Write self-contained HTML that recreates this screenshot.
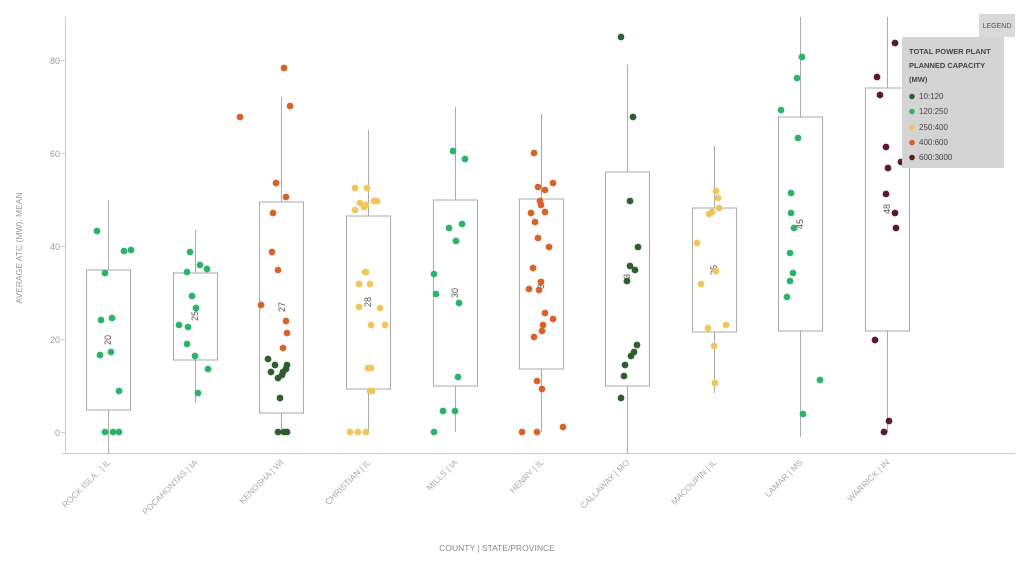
<!DOCTYPE html>
<html><head><meta charset="utf-8"><style>
body{margin:0;background:#fff;font-family:"Liberation Sans",sans-serif}
</style></head><body>
<svg width="1024" height="565" xmlns="http://www.w3.org/2000/svg" font-family="Liberation Sans, sans-serif">
<g stroke="#ccc" stroke-width="1" fill="none">
<line x1="65.5" y1="17" x2="65.5" y2="453"/>
<line x1="62" y1="453.5" x2="1015" y2="453.5"/>
</g>
<g fill="#999" font-size="9" text-anchor="end">
<text x="60" y="64">80</text><text x="60" y="157">60</text><text x="60" y="250">40</text><text x="60" y="343">20</text><text x="60" y="436">0</text>
</g>
<g stroke="#ccc"><line x1="61" y1="60.5" x2="65" y2="60.5"/><line x1="61" y1="153.5" x2="65" y2="153.5"/><line x1="61" y1="246.5" x2="65" y2="246.5"/><line x1="61" y1="339.5" x2="65" y2="339.5"/><line x1="61" y1="432.5" x2="65" y2="432.5"/></g>
<text x="22" y="248" fill="#999" font-size="8.5" text-anchor="middle" transform="rotate(-90 22 248)">AVERAGE ATC (MW), MEAN</text>
<text x="497" y="551" fill="#888" font-size="8.5" text-anchor="middle">COUNTY | STATE/PROVINCE</text>
<g fill="#aaa" font-size="8.5" text-anchor="end">
<text transform="translate(111,463) rotate(-45)">ROCK ISLA.. | IL</text>
<text transform="translate(198,463) rotate(-45)">POCAHONTAS | IA</text>
<text transform="translate(284,463) rotate(-45)">KENOSHA | WI</text>
<text transform="translate(371,463) rotate(-45)">CHRISTIAN | IL</text>
<text transform="translate(458,463) rotate(-45)">MILLS | IA</text>
<text transform="translate(544,463) rotate(-45)">HENRY | IL</text>
<text transform="translate(630,463) rotate(-45)">CALLAWAY | MO</text>
<text transform="translate(717,463) rotate(-45)">MACOUPIN | IL</text>
<text transform="translate(803,463) rotate(-45)">LAMAR | MS</text>
<text transform="translate(890,463) rotate(-45)">WARRICK | IN</text>
</g>
<g stroke="#aaa" stroke-width="1" fill="#fff">
<line x1="108.5" y1="200" x2="108.5" y2="453"/><rect x="86.5" y="270" width="44" height="140"/>
<line x1="195.5" y1="230" x2="195.5" y2="403"/><rect x="173.5" y="273" width="44" height="87"/>
<line x1="281.5" y1="97" x2="281.5" y2="432"/><rect x="259.5" y="202" width="44" height="211"/>
<line x1="368.5" y1="130" x2="368.5" y2="432"/><rect x="346.5" y="216" width="44" height="173"/>
<line x1="455.5" y1="107" x2="455.5" y2="432"/><rect x="433.5" y="200" width="44" height="186"/>
<line x1="541.5" y1="114" x2="541.5" y2="432"/><rect x="519.5" y="199" width="44" height="170"/>
<line x1="627.5" y1="65" x2="627.5" y2="453"/><rect x="605.5" y="172" width="44" height="214"/>
<line x1="714.5" y1="146" x2="714.5" y2="393"/><rect x="692.5" y="208" width="44" height="124"/>
<line x1="800.5" y1="17" x2="800.5" y2="437"/><rect x="778.5" y="117" width="44" height="214"/>
<line x1="887.5" y1="17" x2="887.5" y2="432"/><rect x="865.5" y="88" width="44" height="243"/>
</g>
<g fill="#555" font-size="9" text-anchor="middle">
<text transform="translate(111,340) rotate(-90)">20</text>
<text transform="translate(198,316) rotate(-90)">25</text>
<text transform="translate(285,307) rotate(-90)">27</text>
<text transform="translate(371,302) rotate(-90)">28</text>
<text transform="translate(458,293) rotate(-90)">30</text>
<text transform="translate(544,284) rotate(-90)">32</text>
<text transform="translate(630,279) rotate(-90)">33</text>
<text transform="translate(717,270) rotate(-90)">35</text>
<text transform="translate(803,224) rotate(-90)">45</text>
<text transform="translate(890,209) rotate(-90)">48</text>
</g>
<g fill="#2bb36a">
<circle cx="97" cy="231" r="3.4"/><circle cx="105" cy="273" r="3.4"/><circle cx="124" cy="251" r="3.4"/><circle cx="131" cy="250" r="3.4"/><circle cx="101" cy="320" r="3.4"/><circle cx="112" cy="318" r="3.4"/><circle cx="100" cy="355" r="3.4"/><circle cx="111" cy="352" r="3.4"/><circle cx="119" cy="391" r="3.4"/><circle cx="105" cy="432" r="3.4"/><circle cx="113" cy="432" r="3.4"/><circle cx="119" cy="432" r="3.4"/>
<circle cx="190" cy="252" r="3.4"/><circle cx="200" cy="265" r="3.4"/><circle cx="207" cy="269" r="3.4"/><circle cx="187" cy="272" r="3.4"/><circle cx="192" cy="296" r="3.4"/><circle cx="196" cy="308" r="3.4"/><circle cx="179" cy="325" r="3.4"/><circle cx="188" cy="327" r="3.4"/><circle cx="187" cy="344" r="3.4"/><circle cx="195" cy="356" r="3.4"/><circle cx="208" cy="369" r="3.4"/><circle cx="198" cy="393" r="3.4"/>
<circle cx="453" cy="151" r="3.4"/><circle cx="465" cy="159" r="3.4"/><circle cx="449" cy="228" r="3.4"/><circle cx="462" cy="224" r="3.4"/><circle cx="456" cy="241" r="3.4"/><circle cx="434" cy="274" r="3.4"/><circle cx="436" cy="294" r="3.4"/><circle cx="459" cy="303" r="3.4"/><circle cx="458" cy="377" r="3.4"/><circle cx="443" cy="411" r="3.4"/><circle cx="455" cy="411" r="3.4"/><circle cx="434" cy="432" r="3.4"/>
<circle cx="802" cy="57" r="3.4"/><circle cx="781" cy="110" r="3.4"/><circle cx="797" cy="78" r="3.4"/><circle cx="798" cy="138" r="3.4"/><circle cx="791" cy="193" r="3.4"/><circle cx="791" cy="213" r="3.4"/><circle cx="794" cy="228" r="3.4"/><circle cx="790" cy="253" r="3.4"/><circle cx="793" cy="273" r="3.4"/><circle cx="790" cy="281" r="3.4"/><circle cx="787" cy="297" r="3.4"/><circle cx="820" cy="380" r="3.4"/><circle cx="803" cy="414" r="3.4"/>
</g>
<g fill="#d9622b">
<circle cx="284" cy="68" r="3.4"/><circle cx="290" cy="106" r="3.4"/><circle cx="240" cy="117" r="3.4"/><circle cx="276" cy="183" r="3.4"/><circle cx="286" cy="197" r="3.4"/><circle cx="273" cy="213" r="3.4"/><circle cx="272" cy="252" r="3.4"/><circle cx="278" cy="270" r="3.4"/><circle cx="261" cy="305" r="3.4"/><circle cx="286" cy="321" r="3.4"/><circle cx="287" cy="333" r="3.4"/><circle cx="283" cy="348" r="3.4"/>
<circle cx="534" cy="153" r="3.4"/><circle cx="538" cy="187" r="3.4"/><circle cx="553" cy="183" r="3.4"/><circle cx="545" cy="190" r="3.4"/><circle cx="540" cy="201" r="3.4"/><circle cx="541" cy="205" r="3.4"/><circle cx="531" cy="213" r="3.4"/><circle cx="545" cy="212" r="3.4"/><circle cx="535" cy="222" r="3.4"/><circle cx="538" cy="238" r="3.4"/><circle cx="549" cy="247" r="3.4"/><circle cx="533" cy="268" r="3.4"/><circle cx="541" cy="282" r="3.4"/><circle cx="529" cy="289" r="3.4"/><circle cx="539" cy="290" r="3.4"/><circle cx="553" cy="319" r="3.4"/><circle cx="545" cy="313" r="3.4"/><circle cx="543" cy="325" r="3.4"/><circle cx="542" cy="331" r="3.4"/><circle cx="534" cy="337" r="3.4"/><circle cx="537" cy="381" r="3.4"/><circle cx="542" cy="389" r="3.4"/><circle cx="522" cy="432" r="3.4"/><circle cx="537" cy="432" r="3.4"/><circle cx="563" cy="427" r="3.4"/>
</g>
<g fill="#2d5e2e">
<circle cx="268" cy="359" r="3.4"/><circle cx="275" cy="365" r="3.4"/><circle cx="287" cy="365" r="3.4"/><circle cx="271" cy="372" r="3.4"/><circle cx="278" cy="378" r="3.4"/><circle cx="283" cy="372" r="3.4"/><circle cx="286" cy="369" r="3.4"/><circle cx="282" cy="375" r="3.4"/><circle cx="280" cy="398" r="3.4"/><circle cx="278" cy="432" r="3.4"/><circle cx="284" cy="432" r="3.4"/><circle cx="287" cy="432" r="3.4"/>
<circle cx="621" cy="37" r="3.4"/><circle cx="633" cy="117" r="3.4"/><circle cx="630" cy="201" r="3.4"/><circle cx="638" cy="247" r="3.4"/><circle cx="630" cy="266" r="3.4"/><circle cx="635" cy="270" r="3.4"/><circle cx="627" cy="281" r="3.4"/><circle cx="637" cy="345" r="3.4"/><circle cx="634" cy="352" r="3.4"/><circle cx="631" cy="356" r="3.4"/><circle cx="625" cy="365" r="3.4"/><circle cx="624" cy="376" r="3.4"/><circle cx="621" cy="398" r="3.4"/>
</g>
<g fill="#f2c55c">
<circle cx="355" cy="188" r="3.4"/><circle cx="367" cy="188" r="3.4"/><circle cx="360" cy="203" r="3.4"/><circle cx="374" cy="201" r="3.4"/><circle cx="377" cy="201" r="3.4"/><circle cx="366" cy="205" r="3.4"/><circle cx="364" cy="207" r="3.4"/><circle cx="355" cy="210" r="3.4"/><circle cx="365" cy="272" r="3.4"/><circle cx="366" cy="272" r="3.4"/><circle cx="370" cy="284" r="3.4"/><circle cx="359" cy="284" r="3.4"/><circle cx="380" cy="308" r="3.4"/><circle cx="359" cy="307" r="3.4"/><circle cx="371" cy="325" r="3.4"/><circle cx="385" cy="325" r="3.4"/><circle cx="368" cy="368" r="3.4"/><circle cx="371" cy="368" r="3.4"/><circle cx="372" cy="391" r="3.4"/><circle cx="370" cy="391" r="3.4"/><circle cx="350" cy="432" r="3.4"/><circle cx="358" cy="432" r="3.4"/><circle cx="366" cy="432" r="3.4"/>
<circle cx="716" cy="191" r="3.4"/><circle cx="718" cy="198" r="3.4"/><circle cx="719" cy="208" r="3.4"/><circle cx="712" cy="212" r="3.4"/><circle cx="709" cy="214" r="3.4"/><circle cx="697" cy="243" r="3.4"/><circle cx="716" cy="271" r="3.4"/><circle cx="701" cy="284" r="3.4"/><circle cx="726" cy="325" r="3.4"/><circle cx="708" cy="328" r="3.4"/><circle cx="714" cy="346" r="3.4"/><circle cx="715" cy="383" r="3.4"/>
</g>
<g fill="#5c1a24">
<circle cx="895" cy="43" r="3.4"/><circle cx="877" cy="77" r="3.4"/><circle cx="880" cy="95" r="3.4"/><circle cx="886" cy="147" r="3.4"/><circle cx="888" cy="168" r="3.4"/><circle cx="901" cy="162" r="3.4"/><circle cx="886" cy="194" r="3.4"/><circle cx="895" cy="213" r="3.4"/><circle cx="896" cy="228" r="3.4"/><circle cx="875" cy="340" r="3.4"/><circle cx="889" cy="421" r="3.4"/><circle cx="884" cy="432" r="3.4"/>
</g>
<rect x="979" y="14" width="36" height="23" fill="#d9d9d9"/>
<text x="997" y="28" font-size="7" fill="#555" text-anchor="middle">LEGEND</text>
<rect x="902" y="37" width="102" height="131" fill="#d4d4d4"/>
<g font-size="8" fill="#444">
<text x="909" y="54" font-weight="bold" font-size="7.5">TOTAL POWER PLANT</text>
<text x="909" y="68" font-weight="bold" font-size="7.5">PLANNED CAPACITY</text>
<text x="909" y="82" font-weight="bold" font-size="7.5">(MW)</text>
<text x="919" y="99">10:120</text><text x="919" y="114">120:250</text><text x="919" y="130">250:400</text><text x="919" y="145">400:600</text><text x="919" y="160">600:3000</text>
</g>
<circle cx="912" cy="96.5" r="2.8" fill="#2d5e2e"/><circle cx="912" cy="111.5" r="2.8" fill="#2bb36a"/><circle cx="912" cy="127.5" r="2.8" fill="#f2c55c"/><circle cx="912" cy="142.5" r="2.8" fill="#d9622b"/><circle cx="912" cy="157.5" r="2.8" fill="#5c1a24"/>
</svg>
</body></html>
